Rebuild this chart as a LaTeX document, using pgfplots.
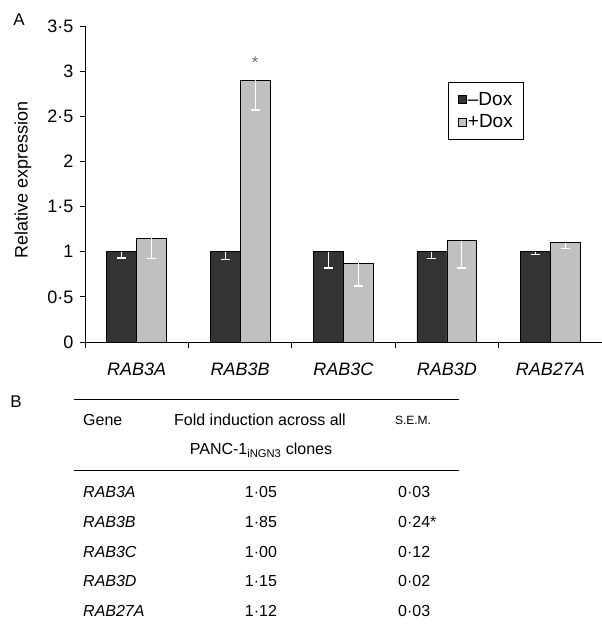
\documentclass[border=0pt]{standalone}
\usepackage{fontspec}
\setmainfont{Liberation Sans}
\usepackage{pgfplots}
\pgfplotsset{compat=1.18}
\definecolor{darkbar}{HTML}{333333}
\definecolor{lightbar}{HTML}{C0C0C0}
\begin{document}
\begin{tikzpicture}[x=1pt,y=1pt]
\path[use as bounding box] (0,0) rectangle (602,627);
\begin{axis}[
  at={(85pt,285pt)}, anchor=south west,
  scale only axis, width=517pt, height=316pt,
  xmin=-0.5, xmax=4.5, ymin=0, ymax=3.5,
  axis x line*=bottom, axis y line*=left,
  axis line style={black, line width=0.9pt, -},
  tick align=outside,
  tick style={black, line width=0.9pt},
  major tick length=5pt, minor tick length=6pt,
  ytick={0,0.5,1,1.5,2,2.5,3,3.5},
  yticklabels={0,0·5,1,1·5,2,2·5,3,3·5},
  xtick={0,1,2,3,4},
  xticklabels={\textit{RAB3A},\textit{RAB3B},\textit{RAB3C},\textit{RAB3D},\textit{RAB27A}},
  minor xtick={-0.5,0.5,1.5,2.5,3.5,4.5},
  major x tick style={draw=none},
  tick label style={font=\fontsize{18}{21}\selectfont},
  yticklabel style={xshift=-3pt},
  xticklabel style={yshift=-12pt},
  ylabel={Relative expression},
  every axis y label/.style={at={(axis description cs:-0.12,0.513)}, rotate=90, anchor=center, font=\fontsize{18}{21}\selectfont},
  legend style={at={(0.702,0.823)}, anchor=north west, draw=black, line width=0.8pt,
    font=\fontsize{19}{21}\selectfont, inner xsep=10pt, inner ysep=9pt, row sep=6pt,
    nodes={inner sep=1pt}},
  legend cell align=left,
  legend image code/.code={\draw[#1, draw=black, line width=0.6pt] (0pt,-4pt) rectangle (8pt,4pt);},
  bar width=0.29,
]
\addplot[ybar, bar shift=0pt, fill=darkbar, draw=black, line width=0.8pt,
  error bars/.cd, y dir=minus, y explicit,
  error bar style={white, line width=1.1pt},
  error mark options={white, rotate=90, mark size=4.5pt, line width=1.1pt}]
  coordinates {(-0.145,1.00) +- (0,0.07) (0.855,1.00) +- (0,0.09) (1.855,1.00) +- (0,0.18) (2.855,1.00) +- (0,0.08) (3.855,1.00) +- (0,0.03)};
\addlegendentry{–Dox}
\addplot[ybar, bar shift=0pt, fill=lightbar, draw=black, line width=0.8pt,
  error bars/.cd, y dir=minus, y explicit,
  error bar style={white, line width=1.1pt},
  error mark options={white, rotate=90, mark size=4.5pt, line width=1.1pt}]
  coordinates {(0.145,1.15) +- (0,0.23) (1.145,2.90) +- (0,0.33) (2.145,0.87) +- (0,0.25) (3.145,1.12) +- (0,0.30) (4.145,1.10) +- (0,0.06)};
\addlegendentry{+Dox}
\node[anchor=base, text=black!55, font=\fontsize{17}{18}\selectfont] at (axis cs:1.145,3.03) {*};
\end{axis}
% panel labels
\node[font=\fontsize{17}{20}\selectfont] at (19,607) {A};
\node[font=\fontsize{17}{20}\selectfont] at (16,225) {B};
% table
\draw[line width=0.8pt] (74,227.7) -- (459,227.7);
\draw[line width=0.8pt] (74,157) -- (459,157);
\begin{scope}[every node/.style={font=\fontsize{16}{19}\selectfont, inner sep=0pt}]
\node[anchor=west] at (83,207) {Gene};
\node at (260,207) {Fold induction across all};
\node at (261,177) {PANC-1\textsubscript{iNGN3} clones};
\node[font=\fontsize{12}{14}\selectfont] at (413,207) {S.E.M.};
\node[anchor=west] at (83,135.3) {\textit{RAB3A}};
\node[anchor=west] at (83,105.3) {\textit{RAB3B}};
\node[anchor=west] at (83,75.3) {\textit{RAB3C}};
\node[anchor=west] at (83,46.3) {\textit{RAB3D}};
\node[anchor=west] at (83,16.3) {\textit{RAB27A}};
\node at (261,135.3) {1·05};
\node at (261,105.3) {1·85};
\node at (261,75.3) {1·00};
\node at (261,46.3) {1·15};
\node at (261,16.3) {1·12};
\node[anchor=west] at (398,135.3) {0·03};
\node[anchor=west] at (398,105.3) {0·24*};
\node[anchor=west] at (398,75.3) {0·12};
\node[anchor=west] at (398,46.3) {0·02};
\node[anchor=west] at (398,16.3) {0·03};
\end{scope}
\end{tikzpicture}
\end{document}
